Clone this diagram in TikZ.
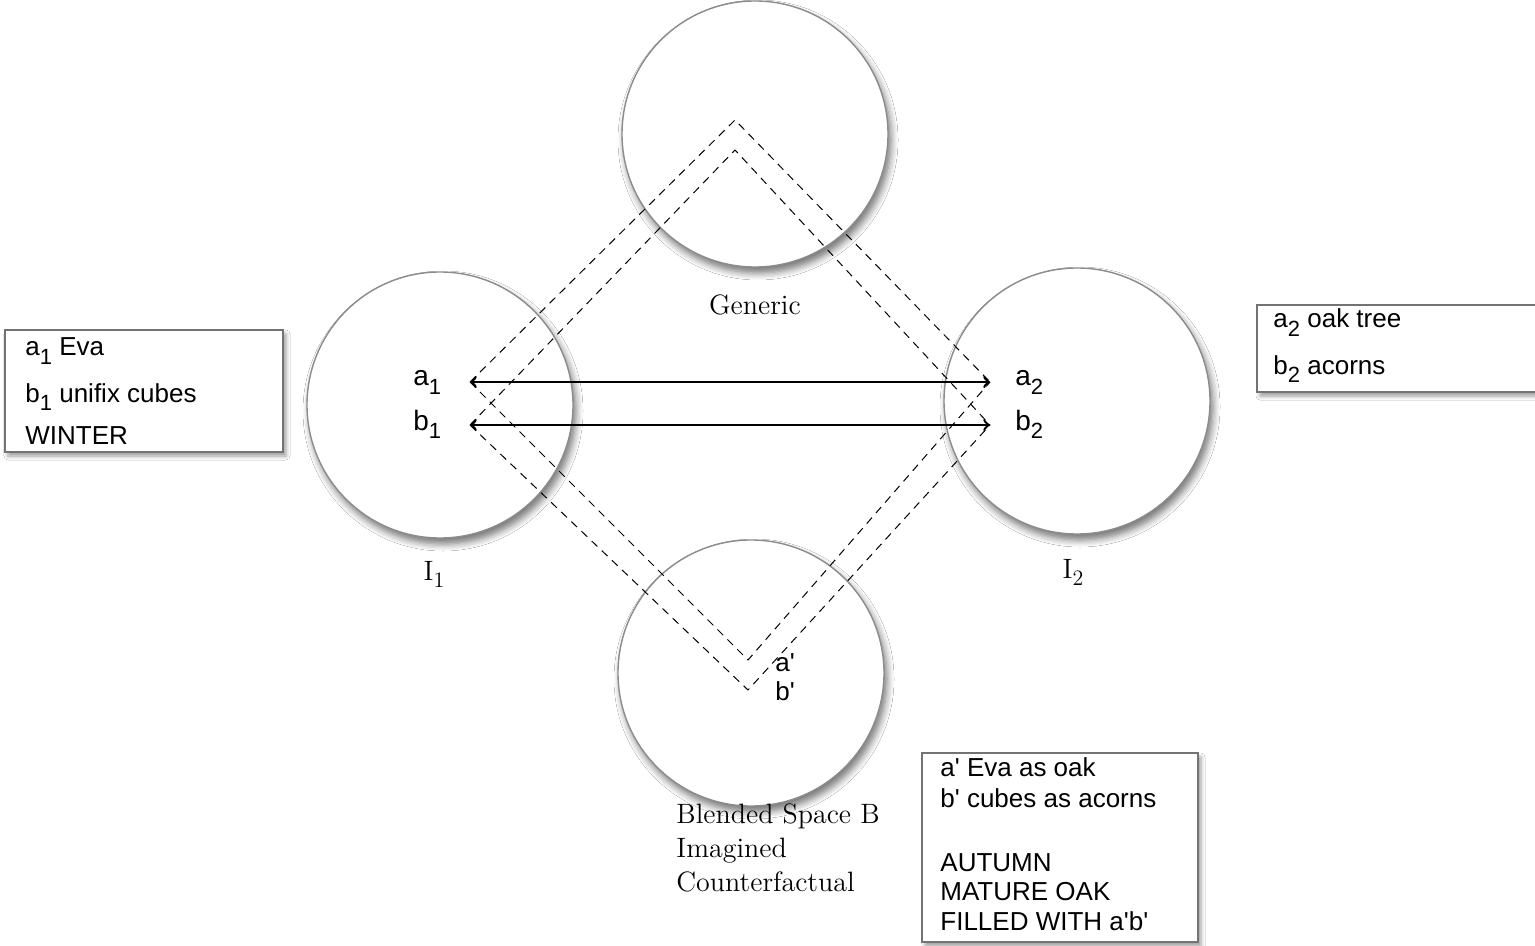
\documentclass[tikz,border=0pt]{standalone}
\usepackage{fontspec}
\setsansfont{Liberation Sans}
\usetikzlibrary{shadows.blur}
\newcommand{\idx}[1]{\raisebox{-0.6ex}{\fontsize{11pt}{11pt}\selectfont #1}}

\begin{document}
\begin{tikzpicture}[x=0.5pt, y=-0.5pt,
    space/.style={circle, draw=black!45, line width=0.7pt, fill=white, minimum size=133pt, inner sep=0pt,
        blur shadow={shadow xshift=1.5pt, shadow yshift=-3pt, shadow blur radius=3.5pt, shadow blur steps=6, shadow opacity=55}},
    infobox/.style={rectangle, draw=black!55, line width=0.8pt, fill=white, inner sep=0pt,
        blur shadow={shadow xshift=1.5pt, shadow yshift=-2pt, shadow blur radius=2pt, shadow blur steps=4}},
    link/.style={black, dash pattern=on 4pt off 3pt, line width=0.5pt},
    match/.style={black, line width=1.2pt, <->, >=to},
    sanstxt/.style={font=\sffamily\fontsize{13pt}{13pt}\selectfont, anchor=base west, inner sep=0pt},
    serftxt/.style={font=\fontsize{14pt}{14pt}\selectfont, inner sep=0pt}]
            \useasboundingbox (0,0) rectangle (1535,946);
            \fill[white] (0,0) rectangle (1535,946);
            \clip (0,0) rectangle (1535,946);

            \path (735,120) coordinate (GA);
            \path (735,150) coordinate (GB);

            \path (470,382) coordinate (A1);
            \path (470,425) coordinate (B1);

            \path (990,382) coordinate (A2);
            \path (990,425) coordinate (B2);

            \path (748,660) coordinate (BA);
            \path (748,690) coordinate (BB);

            \node[space] (Gen) at (755,134) {};
            \node[space] (In1) at (440,405) {};
            \node[space] (In2) at (1077,401) {};
            \node[space] (Bld) at (751,673) {};

            \node[infobox, minimum width=139pt, minimum height=61pt] (box1) at (144,391) {};
            \node[infobox, minimum width=152pt, minimum height=43.5pt] (box2) at (1409,348.5) {};
            \node[infobox, minimum width=138pt, minimum height=94.5pt] (boxB) at (1060,847.5) {};

            \draw[link] (A1) -- (GA) -- (A2);
            \draw[link] (B1) -- (GB) -- (B2);
            \draw[link] (A1) -- (BA) -- (A2);
            \draw[link] (B1) -- (BB) -- (B2);

            \draw[match] (A1) -- (A2);
            \draw[match] (B1) -- (B2);

            \node[serftxt, anchor=base] (lGen) at (755,315) {Generic};
            \node[serftxt, anchor=base] (lIn1) at (434,580) {I\idx{1}};
            \node[serftxt, anchor=base] (lIn2) at (1073,578) {I\idx{2}};
            \node[serftxt, anchor=base west] (lBld1) at (676,823) {Blended Space B};
            \node[serftxt, anchor=base west] (lBld2) at (676,857) {Imagined};
            \node[serftxt, anchor=base west] (lBld3) at (676,891) {Counterfactual};

            \node[sanstxt, font=\sffamily\fontsize{14pt}{14pt}\selectfont] (la1) at (413,386) {a\idx{1}};
            \node[sanstxt, font=\sffamily\fontsize{14pt}{14pt}\selectfont] (lb1) at (413,430) {b\idx{1}};
            \node[sanstxt, font=\sffamily\fontsize{14pt}{14pt}\selectfont] (la2) at (1015,386) {a\idx{2}};
            \node[sanstxt, font=\sffamily\fontsize{14pt}{14pt}\selectfont] (lb2) at (1015,430) {b\idx{2}};
            \node[sanstxt] (lap) at (775,671) {a\textquotesingle};
            \node[sanstxt] (lbp) at (775,700) {b\textquotesingle};

            \node[sanstxt] (t11) at (25,356) {a\idx{1} Eva};
            \node[sanstxt] (t12) at (25,402) {b\idx{1} unifix cubes};
            \node[sanstxt] (t13) at (25,444) {WINTER};

            \node[sanstxt] (t21) at (1273,328) {a\idx{2} oak tree};
            \node[sanstxt] (t22) at (1273,374) {b\idx{2} acorns};

            \node[sanstxt] (tB1) at (940,776) {a\textquotesingle\ Eva as oak};
            \node[sanstxt] (tB2) at (940,807) {b\textquotesingle\ cubes as acorns};
            \node[sanstxt] (tB3) at (940,871) {AUTUMN};
            \node[sanstxt] (tB4) at (940,900) {MATURE OAK};
            \node[sanstxt] (tB5) at (940,930) {FILLED WITH a\textquotesingle b\textquotesingle};
        \end{tikzpicture}
\end{document}
